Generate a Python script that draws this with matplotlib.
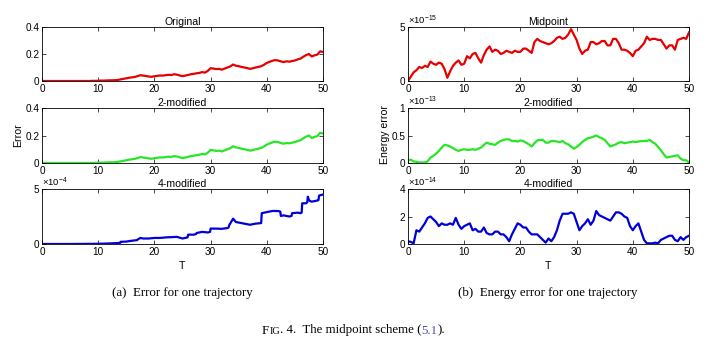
import matplotlib
matplotlib.use('Agg')
import matplotlib.pyplot as plt
import numpy as np

plt.rcParams['font.family'] = ['Liberation Sans', 'DejaVu Sans']
plt.rcParams['mathtext.fontset'] = 'custom'
plt.rcParams['mathtext.rm'] = 'Liberation Sans'
plt.rcParams['mathtext.it'] = 'Liberation Sans:italic'
plt.rcParams['mathtext.bf'] = 'Liberation Sans:bold'

# ---------- data ----------
t_half = np.arange(0, 50.01, 0.5)   # grid of the sampled readings

# (a) error, original scheme
err_orig = [
    0, 0, 0, 0, 0, 0, 0, 0, 0, 0, 0, 0, 0, 0, 0, 0, 0, 0, 0.001, 0.001,
    0.002, 0.003, 0.003, 0.004, 0.005, 0.005, 0.006, 0.008, 0.012, 0.016,
    0.02, 0.024, 0.027, 0.03, 0.036, 0.043, 0.04, 0.037, 0.033, 0.031,
    0.035, 0.038, 0.041, 0.04, 0.043, 0.046, 0.044, 0.05, 0.047, 0.041,
    0.036, 0.04, 0.045, 0.05, 0.053, 0.057, 0.06, 0.066, 0.062, 0.075,
    0.095, 0.092, 0.088, 0.09, 0.084, 0.092, 0.1, 0.108, 0.122, 0.113,
    0.11, 0.104, 0.1, 0.096, 0.09, 0.094, 0.1, 0.104, 0.11, 0.12,
    0.134, 0.142, 0.15, 0.155, 0.152, 0.145, 0.14, 0.146, 0.143, 0.148,
    0.152, 0.16, 0.166, 0.18, 0.192, 0.2, 0.182, 0.19, 0.196, 0.22, 0.215]
# 2-modified coincides with the original at this scale
err_2mod = list(err_orig)

# 4-modified: step-like curve, irregular sample times
t_4mod = [0, 5, 10, 12, 13.9, 14, 15, 16, 16.9, 17, 17.5, 18, 19, 20, 21,
          22, 23, 24, 25, 25.9, 26, 27, 27.4, 27.5, 28.5, 29.5, 29.9, 30, 31, 32,
          33, 33.2, 33.3, 34, 34.5, 35, 36, 37, 38, 39, 39.1, 40, 41, 42, 42.4,
          42.5, 43, 44, 44.4, 44.5, 45.5, 46, 46.2, 46.3, 47, 47.2, 47.3, 47.5, 47.7, 48,
          49, 49.2, 49.3, 50]
err_4mod = np.array([
    0, 0, 0.02, 0.05, 0.1, 0.2, 0.22, 0.3, 0.35, 0.4, 0.55, 0.5, 0.5, 0.55, 0.55,
    0.6, 0.62, 0.65, 0.5, 0.6, 0.85, 0.85, 0.9, 1.0, 1.1, 1.05, 1.1, 1.4, 1.4, 1.38,
    1.45, 1.5, 1.7, 2.3, 2.0, 1.95, 1.85, 1.75, 1.85, 1.9, 2.8, 2.9, 3.0, 3.0, 2.95,
    2.55, 2.6, 2.5, 2.55, 2.8, 2.85, 2.8, 2.85, 3.7, 3.7, 3.8, 4.3, 4.0, 3.9, 3.85,
    3.95, 4.0, 4.4, 4.5]) * 1e-4

# (b) energy error
en_mid = np.array([
    0, 0.4, 0.8, 1.0, 1.3, 1.2, 1.4, 1.3, 1.8, 1.6, 1.5, 1.7, 1.6, 1.1, 0.3, 0.9, 1.4, 1.7, 1.9, 1.5,
    1.6, 2.3, 2.1, 2.5, 2.6, 2.1, 1.7, 2.4, 2.9, 3.2, 2.7, 2.9, 2.8, 2.5, 2.6, 2.8, 2.7, 2.6, 2.8, 2.7,
    2.7, 3.0, 3.0, 2.8, 2.6, 3.6, 3.9, 3.7, 3.6, 3.5, 3.4, 3.5, 3.7, 4.0, 4.1, 3.9, 4.0, 4.3, 4.8, 4.3,
    3.8, 3.0, 2.5, 2.8, 2.9, 3.6, 3.6, 3.4, 3.5, 3.7, 3.7, 3.3, 3.3, 3.9, 3.9, 3.5, 2.9, 2.9, 2.8, 2.6,
    2.3, 2.8, 2.9, 3.2, 3.5, 4.1, 3.8, 3.9, 3.9, 3.8, 3.8, 3.4, 3.0, 3.3, 3.3, 2.9, 3.8, 3.9, 4.0, 3.9,
    4.5]) * 1e-15

en_2mod = np.array([
    0.05, 0.06, 0.03, 0.02, 0.01, 0.01, 0.01, 0.03, 0.1, 0.13, 0.17, 0.22, 0.28, 0.33, 0.32, 0.3, 0.27, 0.24, 0.22, 0.24,
    0.25, 0.24, 0.24, 0.25, 0.24, 0.26, 0.28, 0.33, 0.37, 0.35, 0.34, 0.33, 0.37, 0.40, 0.42, 0.43, 0.43, 0.40, 0.40, 0.39,
    0.41, 0.40, 0.37, 0.34, 0.30, 0.36, 0.41, 0.42, 0.42, 0.37, 0.37, 0.40, 0.40, 0.39, 0.38, 0.40, 0.36, 0.34, 0.30, 0.26,
    0.29, 0.33, 0.38, 0.42, 0.45, 0.46, 0.48, 0.50, 0.47, 0.45, 0.42, 0.36, 0.30, 0.32, 0.34, 0.37, 0.38, 0.36, 0.37, 0.38,
    0.39, 0.38, 0.39, 0.40, 0.40, 0.40, 0.42, 0.38, 0.35, 0.29, 0.23, 0.16, 0.10, 0.11, 0.12, 0.13, 0.14, 0.08, 0.05, 0.05,
    0.01]) * 1e-13

en_4mod = np.array([
    0.2, 0.15, 0.05, 1.0, 0.9, 1.2, 1.5, 1.9, 2.0, 1.8, 1.6, 1.3, 1.5, 1.4, 1.4, 1.5, 1.4, 1.9, 1.4, 1.1,
    1.3, 1.4, 1.5, 1.0, 1.1, 0.9, 0.9, 1.2, 0.8, 0.7, 0.7, 0.9, 0.9, 0.7, 0.7, 0.5, 0.2, 0.7, 1.1, 1.5,
    1.4, 1.2, 1.2, 0.9, 0.7, 0.7, 0.7, 0.5, 0.3, 0.1, 0.4, 0.2, 0.5, 1.0, 1.7, 2.2, 2.2, 2.2, 2.3, 2.2,
    1.6, 1.0, 1.3, 1.5, 1.8, 1.4, 1.7, 2.4, 2.1, 2.0, 1.9, 1.8, 1.7, 2.0, 2.3, 2.3, 2.2, 2.0, 1.9, 1.3,
    1.0, 1.3, 1.5, 0.9, 0.3, 0.05, 0.05, 0.05, 0.1, 0.05, 0.3, 0.4, 0.5, 0.6, 0.6, 0.3, 0.2, 0.5, 0.3, 0.5,
    0.6]) * 1e-14

titles_a = ["Original", "2-modified", "4-modified"]
titles_b = ["Midpoint", "2-modified", "4-modified"]
x_ticks = [0, 10, 20, 30, 40, 50]

RED = (0.9, 0.0, 0.0)
GREEN = (0.15, 0.9, 0.15)
BLUE = (0.0, 0.0, 0.85)
LW = 1.6

W, H = 707, 351
fig = plt.figure(figsize=(W / 100, H / 100), dpi=100)


def px_axes(x0, y0, x1, y1):
    return fig.add_axes([x0 / W, 1 - y1 / H, (x1 - x0) / W, (y1 - y0) / H])


def style(ax, yt, ylab, expo=None):
    ax.set_xlim(0, 50)
    ax.set_ylim(yt[0], yt[-1])
    ax.set_xticks(x_ticks)
    ax.set_xticklabels([str(v) for v in x_ticks])
    ax.set_yticks(yt)
    ax.set_yticklabels(ylab)
    ax.tick_params(direction='in', top=True, right=True, length=3, width=0.5,
                   labelsize=7.2, pad=2)
    ax.tick_params(axis='x', pad=2.2)
    for s in ax.spines.values():
        s.set_linewidth(0.6)
    if expo is not None:
        ax.text(0.0, 1.0, r'$\times10^{%d}$' % expo, transform=ax.transAxes,
                ha='left', va='bottom', fontsize=6.8)


rows = [(27, 81), (108, 163), (189, 244)]
cols = [(42, 323), (408, 689)]

# ---------- (a) ----------
axA = [px_axes(cols[0][0], r[0], cols[0][1], r[1]) for r in rows]
axA[0].plot(t_half, err_orig, color=RED, lw=LW)
style(axA[0], [0, 0.2, 0.4], ["0", "0.2", "0.4"])
axA[1].plot(t_half, err_2mod, color=GREEN, lw=LW)
style(axA[1], [0, 0.2, 0.4], ["0", "0.2", "0.4"])
axA[2].plot(t_4mod, err_4mod, color=BLUE, lw=LW)
style(axA[2], [0, 5e-4], ["0", "5"], expo=-4)

# ---------- (b) ----------
axB = [px_axes(cols[1][0], r[0], cols[1][1], r[1]) for r in rows]
axB[0].plot(t_half, en_mid, color=RED, lw=LW)
style(axB[0], [0, 5e-15], ["0", "5"], expo=-15)
axB[1].plot(t_half, en_2mod, color=GREEN, lw=LW)
style(axB[1], [0, 0.5e-13, 1e-13], ["0", "0.5", "1"], expo=-13)
axB[2].plot(t_half, en_4mod, color=BLUE, lw=LW)
style(axB[2], [0, 2e-14, 4e-14], ["0", "2", "4"], expo=-14)

for ax, ttl in zip(axA, titles_a):
    ax.set_title(ttl, fontsize=7.6, pad=1.5)
for ax, ttl in zip(axB, titles_b):
    ax.set_title(ttl, fontsize=7.6, pad=1.5)

fig.text(18 / W, 1 - 135 / H, "Error", rotation=90, ha='center', va='center', fontsize=7.6)
fig.text(385 / W, 1 - 135 / H, "Energy error", rotation=90, ha='center', va='center', fontsize=7.6)
fig.text(182 / W, 1 - 266 / H, "T", ha='center', va='center', fontsize=7.6)
fig.text(548 / W, 1 - 266 / H, "T", ha='center', va='center', fontsize=7.6)

# ---------- captions ----------
serif = ['Liberation Serif', 'DejaVu Serif']
fig.text(182 / W, 1 - 293 / H, "(a)  Error for one trajectory", family=serif,
         ha='center', va='center', fontsize=9.3)
fig.text(548 / W, 1 - 293 / H, "(b)  Energy error for one trajectory", family=serif,
         ha='center', va='center', fontsize=9.3)

pieces = [("F", 9.3, 'black'), ("IG", 7.4, 'black'), (". 4.  The midpoint scheme (", 9.3, 'black'),
          ("5.1", 9.3, (0.3, 0.3, 0.72)), (").", 9.3, 'black')]
renderer = fig.canvas.get_renderer()
objs = []
widths = []
for txt, fs, col in pieces:
    o = fig.text(0, 1 - 333.5 / H, txt, family=serif, fontsize=fs, color=col,
                 ha='left', va='baseline')
    objs.append(o)
    widths.append(o.get_window_extent(renderer).width)
x = W / 2 - sum(widths) / 2
for o, w in zip(objs, widths):
    o.set_x(x / W)
    x += w

fig.savefig('out.png', dpi=100)
